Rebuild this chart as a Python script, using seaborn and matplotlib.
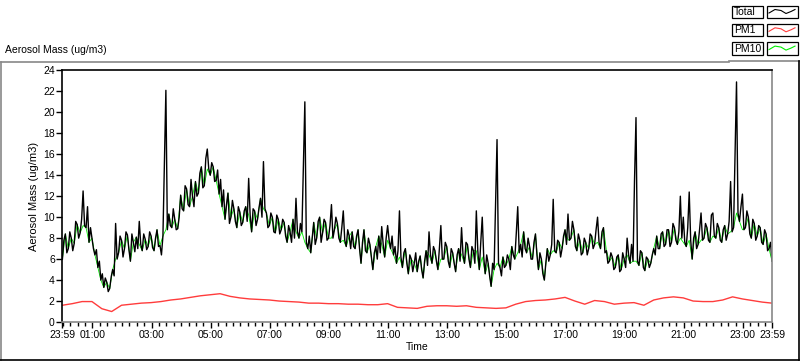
import numpy as np
import pandas as pd
import matplotlib
matplotlib.use("Agg")
import matplotlib.pyplot as plt
from matplotlib.lines import Line2D
import seaborn as sns

# minutes after 23:59 (start of the record), one reading every 3 minutes
total_step = 3
total_mass = [
    6.0, 7.8, 8.4, 6.6, 7.0, 8.6, 8.0, 6.8, 7.5, 9.6,
    9.3, 8.0, 8.5, 9.8, 12.5, 9.2, 9.0, 11.0, 7.6, 9.0,
    8.0, 7.0, 6.4, 6.9, 5.2, 5.8, 4.0, 4.6, 3.3, 4.2,
    3.8, 2.9, 3.2, 4.3, 5.0, 4.4, 9.4, 6.0, 6.6, 8.2,
    7.8, 6.2, 7.0, 8.6, 8.3, 6.9, 5.8, 8.4, 7.6, 6.7,
    8.1, 7.0, 9.6, 7.4, 6.8, 8.4, 7.9, 6.9, 7.2, 8.6,
    8.2, 7.1, 6.8, 8.0, 8.8, 7.2, 7.3, 6.4, 8.2, 15.0,
    22.1, 8.8, 10.3, 9.2, 9.0, 10.8, 9.8, 8.8, 8.9, 10.0,
    12.1, 10.8, 10.6, 13.0, 12.7, 11.2, 11.0, 13.6, 12.0, 11.0,
    13.4, 12.0, 12.3, 14.2, 14.8, 12.8, 13.0, 15.6, 16.5, 14.6,
    14.0, 15.2, 14.8, 13.4, 13.5, 14.5, 12.2, 13.6, 11.0, 12.6,
    9.8, 11.2, 12.3, 9.4, 10.0, 11.6, 10.8, 9.6, 9.0, 11.0,
    10.5, 9.2, 9.5, 10.6, 11.0, 9.6, 13.7, 10.2, 8.6, 10.8,
    10.6, 9.2, 9.8, 10.9, 11.8, 10.0, 15.3, 10.8, 10.4, 9.0,
    9.2, 10.4, 10.0, 8.6, 8.5, 10.2, 9.8, 8.4, 8.8, 9.8,
    9.5, 8.2, 7.6, 9.2, 8.6, 7.6, 9.8, 8.0, 11.8, 8.6,
    8.0, 9.4, 8.6, 15.0, 21.0, 7.6, 7.0, 8.2, 6.6, 8.0,
    9.5, 7.4, 8.0, 9.6, 10.0, 7.6, 8.5, 9.8, 9.5, 7.8,
    8.0, 9.2, 11.2, 8.0, 8.8, 10.0, 9.4, 8.0, 7.6, 9.0,
    10.6, 7.8, 7.2, 8.8, 8.2, 7.0, 8.6, 7.2, 7.0, 8.2,
    8.8, 7.0, 5.6, 7.6, 8.8, 6.8, 6.6, 8.0, 7.4, 6.2,
    5.0, 6.6, 7.2, 6.0, 8.2, 6.6, 9.1, 7.4, 6.2, 8.0,
    9.2, 7.8, 7.0, 8.2, 6.4, 7.2, 5.6, 6.8, 10.6, 6.2,
    5.2, 6.6, 7.0, 5.6, 4.6, 6.4, 6.0, 4.8, 5.6, 6.6,
    4.8, 5.8, 6.3, 5.0, 4.2, 5.8, 6.8, 5.4, 8.6, 6.4,
    5.6, 7.2, 6.8, 5.8, 5.0, 7.0, 9.2, 6.0, 6.0, 7.6,
    7.2, 5.8, 5.2, 7.0, 6.6, 5.6, 4.8, 6.4, 7.0, 5.8,
    9.0, 6.4, 5.6, 7.6, 7.4, 6.0, 5.2, 7.2, 6.8, 5.6,
    10.6, 6.8, 5.0, 7.6, 10.0, 6.2, 4.6, 6.4, 5.6, 4.4,
    3.4, 5.6, 5.0, 11.2, 17.4, 5.6, 5.2, 4.4, 6.2, 5.2,
    5.4, 6.4, 6.0, 5.0, 7.2, 6.4, 6.0, 8.4, 11.0, 6.6,
    7.4, 6.2, 8.6, 7.0, 6.6, 8.0, 7.2, 6.0, 6.0, 7.6,
    8.4, 6.4, 5.0, 6.6, 6.0, 4.6, 4.0, 5.6, 7.0, 5.8,
    6.4, 7.4, 11.7, 6.8, 6.6, 7.8, 7.6, 6.2, 7.0, 8.2,
    8.8, 7.4, 10.3, 7.8, 8.0, 9.6, 8.8, 7.2, 6.8, 8.4,
    7.8, 6.4, 6.6, 8.0, 7.6, 6.4, 7.0, 8.4, 8.2, 7.0,
    7.4, 8.8, 10.0, 7.6, 7.0, 8.6, 9.0, 6.6, 6.8, 5.6,
    5.8, 6.6, 6.2, 5.0, 5.2, 6.2, 6.4, 4.8, 5.0, 6.6,
    6.0, 5.2, 8.0, 6.4, 5.6, 7.4, 5.8, 13.5, 19.5, 5.8,
    5.4, 6.8, 6.6, 5.2, 4.9, 6.2, 6.0, 5.2, 5.6, 6.4,
    7.0, 6.4, 8.2, 7.0, 7.0, 8.4, 8.6, 7.2, 7.4, 8.8,
    8.8, 7.2, 7.6, 9.4, 9.0, 7.8, 7.4, 8.6, 12.0, 8.0,
    10.0, 7.6, 7.2, 9.0, 12.4, 7.8, 6.0, 8.0, 8.6, 7.0,
    7.4, 8.8, 10.4, 7.8, 8.0, 9.4, 9.0, 7.8, 7.6, 10.2,
    10.4, 8.2, 8.0, 9.4, 9.0, 7.8, 7.6, 8.8, 9.2, 7.8,
    8.4, 9.6, 13.4, 8.6, 9.0, 15.8, 22.9, 10.4, 9.6, 11.0,
    12.2, 8.8, 9.0, 10.6, 10.0, 8.4, 8.0, 9.8, 9.4, 7.8,
    8.2, 9.2, 9.0, 7.6, 7.4, 8.8, 8.4, 6.8, 7.0, 7.6,
    5.8,
]

pm1_step = 20
pm1_mass = [
    1.6, 1.75, 1.95, 1.95, 1.27, 1.0, 1.6, 1.7, 1.8, 1.85,
    1.95, 2.1, 2.2, 2.35, 2.5, 2.6, 2.7, 2.45, 2.3, 2.2,
    2.15, 2.1, 2.0, 1.95, 1.9, 1.8, 1.8, 1.75, 1.75, 1.7,
    1.7, 1.65, 1.65, 1.75, 1.4, 1.35, 1.3, 1.5, 1.55, 1.55,
    1.5, 1.55, 1.4, 1.35, 1.3, 1.35, 1.7, 1.95, 2.05, 2.1,
    2.2, 2.35, 2.0, 1.7, 2.05, 1.95, 1.7, 1.8, 1.85, 1.6,
    2.1, 2.3, 2.4, 2.3, 2.0, 1.95, 1.95, 2.1, 2.4, 2.2,
    2.05, 1.9, 1.8,
]

# PM10 sits almost exactly under the total trace; read every 6 minutes
pm10_step = 6
pm10_mass = [
    6.0, 8.4, 7.0, 8.0, 7.5, 9.3, 8.5, 9.2, 9.0, 7.6,
    8.0, 6.4, 5.2, 4.0, 3.3, 3.8, 3.2, 5.0, 6.0, 6.6,
    7.8, 7.0, 8.3, 5.8, 7.6, 8.1, 7.4, 6.8, 7.9, 7.2,
    8.2, 6.8, 8.8, 7.3, 8.2, 8.8, 10.3, 9.0, 9.8, 8.9,
    12.1, 10.6, 12.7, 11.0, 12.0, 13.4, 12.3, 14.8, 13.0, 14.6,
    14.0, 14.8, 13.5, 12.2, 11.0, 9.8, 12.3, 10.0, 10.8, 9.0,
    10.5, 9.5, 11.0, 10.2, 8.6, 10.6, 9.8, 11.8, 10.8, 10.4,
    9.2, 10.0, 8.5, 9.8, 8.8, 9.5, 7.6, 8.6, 9.8, 8.6,
    8.0, 8.6, 7.6, 7.0, 6.6, 9.5, 8.0, 10.0, 8.5, 9.5,
    8.0, 8.0, 8.8, 9.4, 7.6, 7.8, 7.2, 8.2, 8.6, 7.0,
    8.8, 5.6, 8.8, 6.6, 7.4, 5.0, 7.2, 8.2, 7.4, 6.2,
    7.8, 7.0, 6.4, 5.6, 6.2, 5.2, 7.0, 4.6, 6.0, 5.6,
    4.8, 6.3, 4.2, 6.8, 6.4, 5.6, 6.8, 5.0, 6.0, 6.0,
    7.2, 5.2, 6.6, 4.8, 7.0, 6.4, 5.6, 7.4, 5.2, 6.8,
    6.8, 5.0, 6.2, 4.6, 5.6, 3.4, 5.0, 5.6, 5.2, 6.2,
    5.4, 6.0, 7.2, 6.0, 6.6, 7.4, 8.6, 6.6, 7.2, 6.0,
    8.4, 5.0, 6.0, 4.0, 7.0, 6.4, 6.8, 6.6, 7.6, 7.0,
    8.8, 7.8, 8.0, 8.8, 6.8, 7.8, 6.6, 7.6, 7.0, 8.2,
    7.4, 7.6, 7.0, 9.0, 6.8, 5.8, 6.2, 5.2, 6.4, 5.0,
    6.0, 6.4, 5.6, 5.8, 5.8, 5.4, 6.6, 4.9, 6.0, 5.6,
    7.0, 8.2, 7.0, 8.6, 7.4, 8.8, 7.6, 9.0, 7.4, 8.0,
    7.6, 7.2, 7.8, 6.0, 8.6, 7.4, 7.8, 8.0, 9.0, 7.6,
    8.2, 8.0, 9.0, 7.6, 9.2, 8.4, 8.6, 9.0, 10.4, 9.6,
    8.8, 9.0, 10.0, 8.0, 9.4, 8.2, 9.0, 7.4, 8.4, 7.0,
    5.8,
]

tick_minutes = [0, 61, 181, 301, 421, 541, 661, 781, 901, 1021, 1141, 1261, 1381, 1440]
tick_labels = ["23:59", "01:00", "03:00", "05:00", "07:00", "09:00", "11:00",
               "13:00", "15:00", "17:00", "19:00", "21:00", "23:00", "23:59"]

df_total = pd.DataFrame({"minute": np.arange(len(total_mass)) * total_step, "mass": total_mass})
df_pm1 = pd.DataFrame({"minute": np.arange(len(pm1_mass)) * pm1_step, "mass": pm1_mass})
df_pm10 = pd.DataFrame({"minute": np.arange(len(pm10_mass)) * pm10_step, "mass": pm10_mass})

plt.rcParams["font.family"] = ["Liberation Sans", "DejaVu Sans"]
plt.rcParams["font.size"] = 7.5

fig = plt.figure(figsize=(8.0, 3.61), dpi=100)
ax = fig.add_axes([0.078, 0.108, 0.887, 0.697])

sns.lineplot(data=df_pm10, x="minute", y="mass", ax=ax, color="#00ee00", lw=0.6, estimator=None)
sns.lineplot(data=df_total, x="minute", y="mass", ax=ax, color="#000000", lw=1.0, estimator=None)
sns.lineplot(data=df_pm1, x="minute", y="mass", ax=ax, color="#ff3c3c", lw=1, estimator=None)

ax.set_xlim(0, 1440)
ax.set_ylim(0, 24)
ax.set_yticks(range(0, 25, 2))
ax.set_xticks(tick_minutes)
ax.set_xticklabels(tick_labels)
ax.set_xticks(np.arange(1, 1440, 15), minor=True)
ax.tick_params(axis="both", direction="out", length=4, width=1, colors="black", pad=1.5)
ax.tick_params(axis="x", which="minor", length=3, width=1)
ax.set_xlabel("Time", labelpad=2)
ax.set_ylabel("Aerosol Mass (ug/m3)", labelpad=3, fontsize=8)

ax.spines["left"].set_color("black")
ax.spines["top"].set_color("black")
ax.spines["right"].set_color("#888888")
ax.spines["bottom"].set_color("#888888")
for s in ax.spines.values():
    s.set_linewidth(1.2)

# panel title and outer frame
fig.text(5 / 800, 1 - 50 / 361, "Aerosol Mass (ug/m3)", ha="left", va="center")
W, H = 800, 361
frame = [((0.5, 0.5), (61.5, 360)), ((0.5, 729), (61.5, 61.5)), ((729, 800), (60.5, 60.5)),
         ((0, 799), (360, 360)), ((799, 799), (60.5, 360))]
frame_cols = ["#888888", "#888888", "#888888", "black", "black"]
for (xs, ys), c in zip(frame, frame_cols):
    fig.add_artist(Line2D([x / W for x in xs], [1 - y / H for y in ys], color=c, lw=1.2))

# legend boxes in the top-right corner
legend_names = ["Total", "PM1", "PM10"]
legend_cols = ["black", "#ff3c3c", "#00ee00"]
for k, (name, col) in enumerate(zip(legend_names, legend_cols)):
    top = 5.5 + k * 18.3
    fig.add_artist(plt.Rectangle((731.5 / W, 1 - (top + 12.5) / H), 31 / W, 12.5 / H,
                                 fill=False, ec="black", lw=0.9))
    fig.text(734 / W, 1 - (top + 6.5) / H, name, ha="left", va="center")
    fig.add_artist(plt.Rectangle((766.5 / W, 1 - (top + 12.5) / H), 31 / W, 12.5 / H,
                                 fill=False, ec="black", lw=0.9))
    sx = [769, 775, 781, 786, 791, 795]
    sy = [top + 7.5, top + 4, top + 5, top + 8, top + 6, top + 4]
    fig.add_artist(Line2D([x / W for x in sx], [1 - y / H for y in sy], color=col, lw=0.8))

fig.savefig("out.png", dpi=100, facecolor="white")
